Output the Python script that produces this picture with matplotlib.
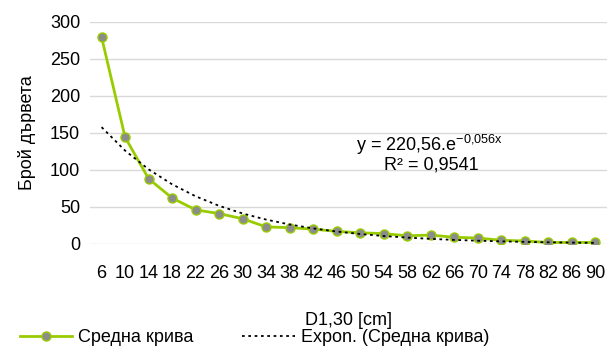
import matplotlib.pyplot as plt
import numpy as np

plt.rcParams['font.family'] = ['Liberation Sans', 'DejaVu Sans']
plt.rcParams['mathtext.fontset'] = 'custom'
plt.rcParams['mathtext.rm'] = 'Liberation Sans'

d_cm = [6, 10, 14, 18, 22, 26, 30, 34, 38, 42, 46, 50, 54, 58, 62, 66, 70, 74, 78, 82, 86, 90]
trees = [279, 144, 88, 62, 46, 41, 34, 23, 22, 20, 17, 15, 14, 11, 12, 9, 8, 5, 4, 2, 2, 2]

# exponential trendline coefficients as shown on the chart
trend_a = 220.56
trend_b = -0.056
trend = trend_a * np.exp(trend_b * np.array(d_cm))

fig = plt.figure(figsize=(6.07, 3.49), dpi=100)
ax = fig.add_axes([0.148, 0.301, 0.852, 0.637])

pos = np.arange(len(d_cm))
ax.plot(pos, trees, color='#99CC00', lw=2, marker='o', ms=6.5,
        mfc='#8C8C8C', mec='#99CC00', mew=1, label='Средна крива', zorder=3)
ax.plot(pos, trend, color='black', lw=1.3, ls=(0, (1.5, 2)),
        label='Expon. (Средна крива)', zorder=4)

ax.set_xlim(-0.5, len(d_cm) - 0.5)
ax.set_ylim(0, 300)
ax.set_yticks(range(0, 301, 50))
ax.set_xticks(pos)
ax.set_xticklabels([str(v) for v in d_cm])
ax.grid(axis='y', color='#D9D9D9', lw=1)
ax.set_axisbelow(True)
for s in ax.spines.values():
    s.set_visible(False)
ax.tick_params(length=0, labelsize=13, colors='black')
ax.tick_params(axis='y', pad=7)
ax.tick_params(axis='x', pad=15)

ax.set_ylabel('Брой дървета', fontsize=13, labelpad=10)
ax.set_xlabel('D1,30 [cm]', fontsize=13, labelpad=22)

ax.text(0.657, 0.446, r'y = 220,56.e$^{\mathrm{-0{,}056x}}$', transform=ax.transAxes,
        fontsize=13, ha='center', va='center')
ax.text(0.66, 0.356, 'R² = 0,9541', transform=ax.transAxes,
        fontsize=13, ha='center', va='center')

fig.legend(loc='center left', bbox_to_anchor=(20 / 607, 11 / 349), ncol=2, frameon=False,
           fontsize=13, handlelength=2.9, columnspacing=2.7, handletextpad=0.33,
           borderpad=0, borderaxespad=0)

fig.savefig('out.png', dpi=100)
